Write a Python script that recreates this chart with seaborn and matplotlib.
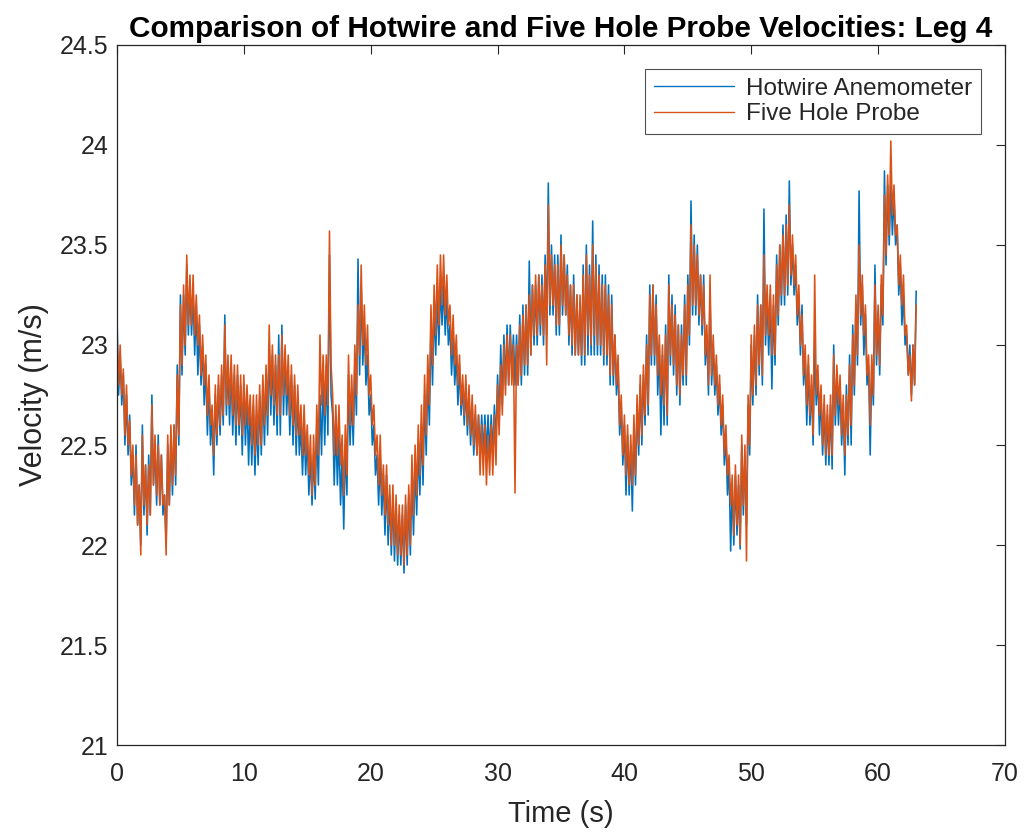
import numpy as np
import pandas as pd
import matplotlib
matplotlib.use("Agg")
import matplotlib.pyplot as plt
import seaborn as sns

# Sampled time base (s)
time_s = np.arange(0, 63.001, 0.125)

# Hotwire anemometer velocity (m/s)
hotwire = [
    23.15, 22.75, 22.95, 22.70, 22.85, 22.50, 22.75, 22.45,
    22.65, 22.30, 22.45, 22.15, 22.50, 22.10, 22.30, 22.00,
    22.60, 22.15, 22.40, 22.05, 22.45, 22.15, 22.75, 22.30,
    22.50, 22.20, 22.55, 22.20, 22.45, 22.15, 22.25, 22.00,
    22.50, 22.20, 22.55, 22.25, 22.60, 22.30, 22.90, 22.50,
    23.25, 22.85, 23.25, 22.95, 23.40, 23.05, 23.30, 23.05,
    23.25, 22.95, 23.20, 22.85, 23.10, 22.80, 23.00, 22.70,
    22.90, 22.55, 22.80, 22.50, 22.65, 22.35, 22.75, 22.50,
    22.80, 22.55, 22.85, 22.60, 23.15, 22.65, 22.90, 22.60,
    22.90, 22.55, 22.85, 22.50, 22.85, 22.55, 22.80, 22.45,
    22.80, 22.50, 22.75, 22.40, 22.70, 22.40, 22.70, 22.35,
    22.65, 22.40, 22.75, 22.45, 22.80, 22.50, 22.85, 22.55,
    23.00, 22.65, 22.95, 22.60, 22.90, 22.55, 23.05, 22.55,
    23.10, 22.65, 22.95, 22.65, 22.85, 22.55, 22.85, 22.50,
    22.80, 22.45, 22.75, 22.45, 22.60, 22.35, 22.60, 22.35,
    22.55, 22.25, 22.45, 22.20, 22.45, 22.23, 22.60, 22.30,
    22.75, 22.45, 22.85, 22.50, 22.90, 22.55, 23.45, 22.75,
    22.65, 22.30, 22.60, 22.30, 22.55, 22.20, 22.45, 22.08,
    22.50, 22.25, 22.85, 22.50, 22.75, 22.50, 22.90, 22.65,
    23.43, 22.85, 23.30, 22.90, 23.10, 22.80, 22.95, 22.65,
    22.75, 22.50, 22.60, 22.35, 22.45, 22.20, 22.45, 22.15,
    22.35, 22.05, 22.35, 22.00, 22.25, 21.95, 22.25, 21.92,
    22.20, 21.90, 22.15, 21.90, 22.15, 21.86, 22.20, 21.90,
    22.25, 21.95, 22.35, 22.05, 22.40, 22.15, 22.50, 22.25,
    22.60, 22.30, 22.75, 22.45, 22.85, 22.60, 23.10, 22.80,
    23.20, 22.95, 23.25, 23.00, 23.30, 23.10, 23.30, 23.05,
    23.25, 23.00, 23.10, 22.85, 23.05, 22.80, 22.95, 22.70,
    22.90, 22.65, 22.80, 22.60, 22.80, 22.55, 22.75, 22.50,
    22.70, 22.45, 22.65, 22.45, 22.65, 22.45, 22.65, 22.45,
    22.65, 22.45, 22.65, 22.45, 22.65, 22.45, 22.70, 22.50,
    22.85, 22.60, 23.00, 22.70, 23.05, 22.80, 23.10, 22.80,
    23.10, 22.85, 23.05, 22.80, 23.05, 22.80, 23.15, 22.80,
    23.20, 22.85, 23.20, 22.85, 23.42, 22.95, 23.30, 23.00,
    23.30, 23.00, 23.35, 23.05, 23.35, 23.00, 23.45, 23.05,
    23.81, 23.15, 23.50, 23.15, 23.45, 23.05, 23.45, 23.05,
    23.55, 23.15, 23.45, 23.15, 23.40, 23.00, 23.30, 22.95,
    23.35, 22.95, 23.25, 22.95, 23.20, 22.90, 23.40, 22.90,
    23.50, 22.95, 23.40, 22.95, 23.62, 22.95, 23.45, 22.95,
    23.40, 22.95, 23.35, 22.90, 23.35, 22.90, 23.30, 22.80,
    23.25, 22.80, 23.05, 22.75, 22.90, 22.55, 22.70, 22.40,
    22.60, 22.25, 22.55, 22.25, 22.50, 22.17, 22.60, 22.30,
    22.70, 22.45, 22.80, 22.50, 22.85, 22.60, 23.05, 22.65,
    23.30, 22.90, 23.30, 22.90, 23.25, 22.75, 23.00, 22.55,
    22.95, 22.60, 23.10, 22.60, 23.35, 22.90, 23.25, 22.85,
    23.20, 22.75, 23.10, 22.70, 23.10, 22.80, 23.25, 22.80,
    23.35, 23.00, 23.72, 23.15, 23.55, 23.15, 23.50, 23.10,
    23.35, 23.05, 23.35, 22.90, 23.05, 22.75, 23.25, 22.80,
    23.00, 22.75, 22.90, 22.65, 22.80, 22.55, 22.70, 22.40,
    22.55, 22.25, 22.40, 21.97, 22.30, 22.00, 22.35, 22.05,
    22.30, 21.98, 22.50, 22.15, 22.45, 22.10, 22.70, 22.45,
    23.00, 22.70, 23.05, 22.75, 23.25, 22.85, 23.20, 22.80,
    23.68, 23.00, 23.25, 22.95, 23.25, 22.78, 23.20, 22.90,
    23.45, 23.10, 23.50, 23.20, 23.60, 23.20, 23.65, 23.25,
    23.82, 23.30, 23.50, 23.25, 23.40, 23.10, 23.25, 22.95,
    23.20, 22.80, 22.95, 22.60, 22.90, 22.60, 22.80, 22.50,
    23.00, 22.70, 22.85, 22.55, 22.75, 22.45, 22.70, 22.40,
    22.65, 22.40, 22.70, 22.38, 23.00, 22.60, 22.85, 22.60,
    22.80, 22.50, 22.70, 22.35, 22.80, 22.50, 22.95, 22.50,
    23.10, 22.75, 23.20, 22.90, 23.77, 23.10, 23.30, 22.95,
    23.15, 22.80, 22.90, 22.45, 22.90, 22.70, 23.40, 22.90,
    23.15, 22.85, 23.30, 23.10, 23.87, 23.40, 23.80, 23.50,
    23.80, 23.55, 23.75, 23.50, 23.60, 23.25, 23.40, 23.10,
    23.25, 23.00, 23.05, 22.85, 23.00, 22.75, 23.00, 22.80,
    23.27,
]

# Five hole probe velocity (m/s)
five_hole = [
    23.05, 22.80, 23.00, 22.75, 22.88, 22.55, 22.80, 22.50,
    22.62, 22.35, 22.50, 22.20, 22.45, 22.10, 22.30, 21.95,
    22.55, 22.20, 22.40, 22.10, 22.40, 22.15, 22.70, 22.30,
    22.55, 22.25, 22.50, 22.20, 22.45, 22.20, 22.25, 21.95,
    22.55, 22.20, 22.60, 22.30, 22.60, 22.35, 22.85, 22.55,
    23.20, 22.90, 23.30, 23.00, 23.45, 23.10, 23.35, 23.10,
    23.35, 23.05, 23.25, 23.00, 23.15, 22.85, 23.05, 22.80,
    22.95, 22.65, 22.85, 22.60, 22.70, 22.45, 22.80, 22.55,
    22.85, 22.60, 22.90, 22.65, 23.10, 22.70, 22.95, 22.70,
    22.95, 22.65, 22.90, 22.60, 22.90, 22.60, 22.85, 22.55,
    22.85, 22.60, 22.80, 22.60, 22.75, 22.50, 22.75, 22.45,
    22.75, 22.50, 22.80, 22.50, 22.85, 22.60, 22.90, 22.65,
    23.10, 22.75, 23.00, 22.70, 22.95, 22.65, 22.95, 22.65,
    23.05, 22.75, 23.00, 22.75, 22.95, 22.65, 22.90, 22.60,
    22.85, 22.55, 22.80, 22.55, 22.70, 22.45, 22.70, 22.45,
    22.60, 22.35, 22.55, 22.25, 22.55, 22.30, 22.70, 22.45,
    23.05, 22.70, 22.95, 22.65, 22.95, 22.70, 23.57, 22.90,
    22.75, 22.45, 22.70, 22.45, 22.70, 22.40, 22.55, 22.25,
    22.60, 22.35, 22.95, 22.60, 22.85, 22.60, 23.00, 22.75,
    23.20, 22.95, 23.40, 23.00, 23.20, 22.90, 23.10, 22.75,
    22.85, 22.60, 22.70, 22.45, 22.55, 22.30, 22.55, 22.25,
    22.40, 22.15, 22.40, 22.10, 22.30, 22.00, 22.30, 22.00,
    22.25, 21.95, 22.20, 21.95, 22.20, 21.90, 22.25, 21.95,
    22.30, 22.00, 22.45, 22.15, 22.50, 22.25, 22.60, 22.35,
    22.70, 22.40, 22.85, 22.55, 22.95, 22.70, 23.20, 22.90,
    23.30, 23.05, 23.40, 23.10, 23.45, 23.20, 23.45, 23.15,
    23.35, 23.10, 23.20, 22.95, 23.15, 22.90, 23.05, 22.80,
    22.95, 22.70, 22.85, 22.65, 22.85, 22.60, 22.80, 22.55,
    22.75, 22.50, 22.70, 22.45, 22.65, 22.35, 22.60, 22.35,
    22.60, 22.30, 22.55, 22.35, 22.60, 22.35, 22.65, 22.40,
    22.80, 22.55, 22.90, 22.65, 23.00, 22.75, 23.05, 22.80,
    23.05, 22.80, 23.00, 22.26, 23.00, 22.80, 23.10, 22.85,
    23.15, 22.90, 23.20, 22.90, 23.25, 22.95, 23.30, 23.05,
    23.35, 23.05, 23.35, 23.10, 23.30, 23.05, 23.40, 22.90,
    23.70, 23.20, 23.45, 23.20, 23.40, 23.10, 23.40, 23.10,
    23.50, 23.20, 23.45, 23.15, 23.35, 23.05, 23.30, 23.00,
    23.30, 22.95, 23.25, 22.95, 23.25, 22.95, 23.35, 22.95,
    23.45, 23.05, 23.35, 23.00, 23.50, 23.05, 23.40, 23.00,
    23.35, 23.00, 23.30, 22.95, 23.30, 22.95, 23.25, 22.85,
    23.20, 22.85, 23.05, 22.80, 22.95, 22.60, 22.75, 22.45,
    22.65, 22.35, 22.60, 22.30, 22.55, 22.30, 22.65, 22.35,
    22.75, 22.50, 22.85, 22.55, 22.90, 22.65, 23.00, 22.70,
    23.25, 22.95, 23.30, 22.95, 23.20, 22.85, 23.05, 22.75,
    23.00, 22.70, 23.05, 22.65, 23.30, 22.95, 23.20, 22.90,
    23.15, 22.80, 23.10, 22.75, 23.05, 22.85, 23.20, 22.85,
    23.30, 23.05, 23.60, 23.20, 23.50, 23.20, 23.45, 23.15,
    23.35, 23.10, 23.30, 22.95, 23.10, 22.80, 23.35, 22.85,
    23.05, 22.80, 22.95, 22.70, 22.85, 22.60, 22.75, 22.45,
    22.60, 22.35, 22.45, 22.20, 22.35, 22.05, 22.40, 22.10,
    22.35, 22.00, 22.55, 22.20, 22.50, 21.92, 22.75, 22.50,
    23.05, 22.75, 23.10, 22.80, 23.20, 22.90, 23.20, 22.85,
    23.45, 23.05, 23.30, 23.05, 23.30, 22.95, 23.25, 22.95,
    23.40, 23.15, 23.50, 23.25, 23.55, 23.25, 23.60, 23.30,
    23.70, 23.35, 23.55, 23.30, 23.45, 23.15, 23.30, 23.00,
    23.15, 22.85, 23.00, 22.70, 22.95, 22.65, 22.85, 22.55,
    23.35, 22.75, 22.90, 22.65, 22.80, 22.50, 22.75, 22.45,
    22.70, 22.45, 22.75, 22.45, 22.95, 22.65, 22.90, 22.70,
    22.85, 22.55, 22.75, 22.45, 22.75, 22.55, 22.90, 22.60,
    23.05, 22.80, 23.25, 22.95, 23.50, 23.15, 23.35, 23.05,
    23.20, 22.85, 22.95, 22.60, 22.95, 22.75, 23.30, 22.95,
    23.20, 22.90, 23.35, 23.15, 23.75, 23.45, 23.85, 23.55,
    24.02, 23.65, 23.80, 23.55, 23.60, 23.30, 23.45, 23.20,
    23.35, 23.05, 23.10, 22.85, 22.95, 22.72, 23.00, 22.80,
    23.20,
]

series_names = ["Hotwire Anemometer", "Five Hole Probe"]
series_colors = ["#0072BD", "#D95319"]

x_ticks = [0, 10, 20, 30, 40, 50, 60, 70]
y_ticks = [21, 21.5, 22, 22.5, 23, 23.5, 24, 24.5]
y_tick_labels = ["21", "21.5", "22", "22.5", "23", "23.5", "24", "24.5"]

df = pd.DataFrame({
    "Time": np.concatenate([time_s, time_s]),
    "Velocity": np.concatenate([hotwire, five_hole]),
    "Source": [series_names[0]] * len(time_s) + [series_names[1]] * len(time_s),
})

sns.set_style("white")
plt.rcParams["font.family"] = ["Liberation Sans", "DejaVu Sans"]

fig, ax = plt.subplots(figsize=(10.28, 8.39), dpi=100)
fig.subplots_adjust(left=0.1138, right=0.9776, top=0.9464, bottom=0.1120)

sns.lineplot(data=df, x="Time", y="Velocity", hue="Source",
             hue_order=series_names, palette=series_colors,
             linewidth=1.15, ax=ax, legend=True, estimator=None, sort=False)

ax.set_xlim(0, 70)
ax.set_ylim(21, 24.5)
ax.set_xticks(x_ticks)
ax.set_xticklabels([str(v) for v in x_ticks], fontsize=18)
ax.set_yticks(y_ticks)
ax.set_yticklabels(y_tick_labels, fontsize=18)

axis_color = "#262626"
for side in ["left", "right", "top", "bottom"]:
    ax.spines[side].set_visible(True)
    ax.spines[side].set_color(axis_color)
    ax.spines[side].set_linewidth(0.9)
ax.tick_params(axis="both", which="major", direction="in", length=6.5,
               width=0.8, color=axis_color, labelcolor="#262626",
               top=True, right=True, pad=6)
ax.tick_params(axis="x", pad=12)

ax.set_xlabel("Time (s)", fontsize=21, color="#262626", labelpad=10)
ax.set_ylabel("Velocity (m/s)", fontsize=22, color="#262626", labelpad=8)
ax.set_title("Comparison of Hotwire and Five Hole Probe Velocities: Leg 4",
             fontweight="bold", fontsize=21.4, color="black", pad=6)

leg = ax.legend(loc="upper right", fontsize=17.5, frameon=True, fancybox=False,
                handlelength=3.3, borderpad=0.35, labelspacing=0.15,
                handletextpad=0.5, borderaxespad=1.0)
leg.get_frame().set_edgecolor(axis_color)
leg.get_frame().set_linewidth(0.8)
for line in leg.get_lines():
    line.set_linewidth(1.0)

fig.savefig("out.png", dpi=100)
